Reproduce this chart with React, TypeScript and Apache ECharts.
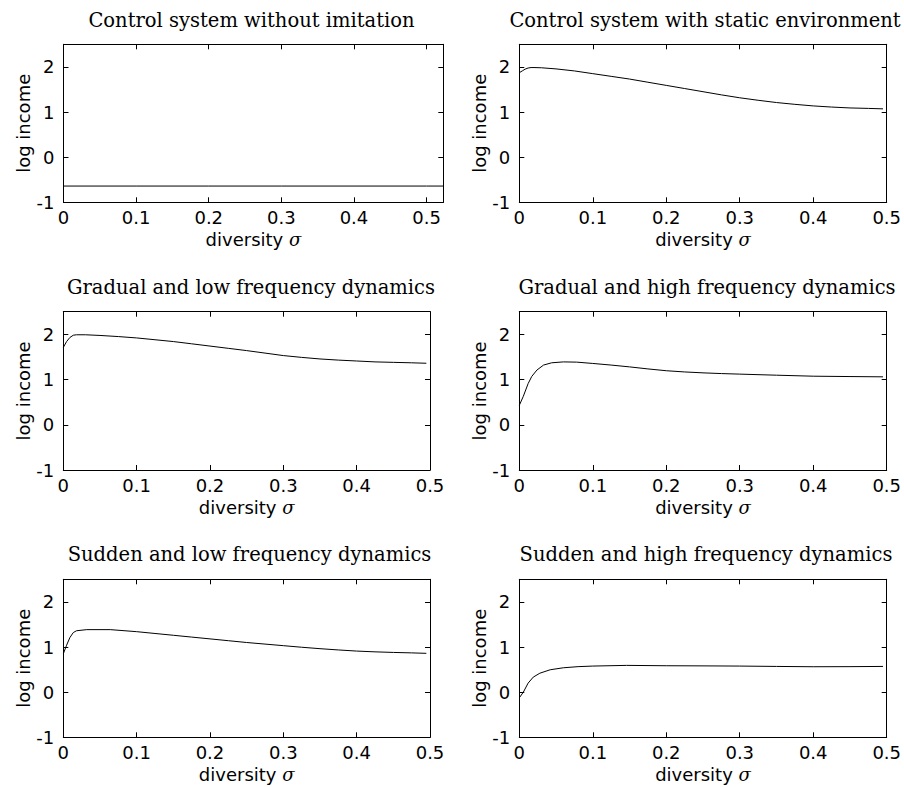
import React, { useEffect, useRef } from "react";
import * as echarts from "echarts";

// ---------- data ----------
const titles = [
  "Control system without imitation",
  "Control system with static environment",
  "Gradual and low frequency dynamics",
  "Gradual and high frequency dynamics",
  "Sudden and low frequency dynamics",
  "Sudden and high frequency dynamics",
];

const yTicks = [-1, 0, 1, 2];
const xTicks = [0, 0.1, 0.2, 0.3, 0.4, 0.5];

const sigma1 = [0, 0.1, 0.2, 0.3, 0.4, 0.5, 0.523];
const income1 = [-0.64, -0.64, -0.64, -0.64, -0.64, -0.64, -0.64];

const sigma2 = [0, 0.004, 0.008, 0.012, 0.016, 0.02, 0.03, 0.05, 0.075, 0.1, 0.125, 0.15, 0.175, 0.2, 0.225, 0.25, 0.275, 0.3, 0.325, 0.35, 0.375, 0.4, 0.425, 0.45, 0.475, 0.495];
const income2 = [1.87, 1.91, 1.95, 1.975, 1.985, 1.985, 1.98, 1.955, 1.91, 1.85, 1.79, 1.73, 1.66, 1.59, 1.52, 1.45, 1.38, 1.315, 1.26, 1.21, 1.17, 1.135, 1.11, 1.09, 1.08, 1.07];

const sigma3 = [0, 0.0045, 0.009, 0.0136, 0.018, 0.03, 0.05, 0.075, 0.1, 0.125, 0.15, 0.175, 0.2, 0.225, 0.25, 0.275, 0.3, 0.325, 0.35, 0.375, 0.4, 0.425, 0.45, 0.475, 0.495];
const income3 = [1.71, 1.84, 1.93, 1.98, 1.99, 1.99, 1.975, 1.95, 1.92, 1.88, 1.84, 1.79, 1.74, 1.69, 1.64, 1.585, 1.53, 1.49, 1.455, 1.43, 1.41, 1.39, 1.38, 1.37, 1.36];

const sigma4 = [0, 0.0055, 0.012, 0.017, 0.024, 0.033, 0.044, 0.06, 0.078, 0.1, 0.125, 0.15, 0.175, 0.2, 0.225, 0.25, 0.275, 0.3, 0.35, 0.4, 0.45, 0.495];
const income4 = [0.43, 0.63, 0.91, 1.07, 1.21, 1.32, 1.37, 1.39, 1.385, 1.356, 1.32, 1.28, 1.235, 1.195, 1.168, 1.148, 1.132, 1.12, 1.096, 1.074, 1.066, 1.06];

const sigma5 = [0, 0.0045, 0.009, 0.0136, 0.018, 0.032, 0.064, 0.1, 0.125, 0.15, 0.175, 0.2, 0.225, 0.25, 0.275, 0.3, 0.325, 0.35, 0.375, 0.4, 0.425, 0.45, 0.475, 0.495];
const income5 = [0.85, 1.04, 1.21, 1.32, 1.36, 1.385, 1.385, 1.34, 1.3, 1.26, 1.22, 1.18, 1.14, 1.1, 1.065, 1.03, 0.995, 0.963, 0.935, 0.91, 0.893, 0.88, 0.87, 0.86];

const sigma6 = [0, 0.0055, 0.012, 0.019, 0.028, 0.042, 0.06, 0.08, 0.1, 0.146, 0.2, 0.25, 0.3, 0.35, 0.4, 0.45, 0.495];
const income6 = [-0.126, 0.0, 0.2, 0.333, 0.42, 0.496, 0.54, 0.565, 0.578, 0.593, 0.585, 0.582, 0.578, 0.57, 0.563, 0.565, 0.57];

const sigmas = [sigma1, sigma2, sigma3, sigma4, sigma5, sigma6];
const incomes = [income1, income2, income3, income4, income5, income6];
const xMaxes = [0.523, 0.5, 0.5, 0.5, 0.5, 0.5];

// ---------- layout ----------
const grids = [
  { left: 63.5, top: 44.3, width: 379.8, height: 158 },
  { left: 519.3, top: 44.3, width: 367.4, height: 158 },
  { left: 63.3, top: 311.7, width: 366.7, height: 158.3 },
  { left: 519.3, top: 311.7, width: 367.4, height: 158.3 },
  { left: 63.3, top: 579.3, width: 366.7, height: 158 },
  { left: 519.3, top: 579.3, width: 367.4, height: 158 },
];
const titlePos = [
  [251.5, 20],
  [705, 20],
  [251, 287],
  [707, 287],
  [249.5, 554],
  [706, 554],
];

const SANS = "DejaVu Sans";
const SERIF = "DejaVu Serif";
const lineStyle = { color: "#000", width: 1 };

export default function App() {
  const ref = useRef<HTMLDivElement>(null);
  useEffect(() => {
    if (!ref.current) return;
    const chart = echarts.init(ref.current, undefined, { renderer: "svg" });
    const xAxis: any[] = [];
    const yAxis: any[] = [];
    const series: any[] = [];
    grids.forEach((g, i) => {
      const xmax = xMaxes[i];
      xAxis.push({
        gridIndex: i,
        type: "value",
        position: "bottom",
        min: xTicks[0],
        max: xmax,
        interval: 0.1,
        axisLine: { show: true, onZero: false, lineStyle },
        axisTick: { show: true, inside: true, length: 5, lineStyle },
        axisLabel: {
          color: "#000",
          fontFamily: SANS,
          fontSize: 18,
          margin: 6,
          showMinLabel: true,
          showMaxLabel: xmax === 0.5,
          formatter: (v: number) => String(Math.round(v * 10) / 10),
        },
        splitLine: { show: false },
        name: "diversity {s|σ}",
        nameLocation: "middle",
        nameGap: 28,
        nameTextStyle: {
          color: "#000",
          fontFamily: SANS,
          fontSize: 18,
          rich: { s: { fontFamily: SERIF, fontStyle: "italic", fontSize: 18, color: "#000" } },
        },
      });
      xAxis.push({
        gridIndex: i,
        type: "value",
        position: "top",
        min: xTicks[0],
        max: xmax,
        interval: 0.1,
        axisLine: { show: true, onZero: false, lineStyle },
        axisTick: { show: true, inside: true, length: 5, lineStyle },
        axisLabel: { show: false },
        splitLine: { show: false },
      });
      yAxis.push({
        gridIndex: i,
        type: "value",
        position: "left",
        min: yTicks[0],
        max: 2.5,
        interval: 1,
        axisLine: { show: true, onZero: false, lineStyle },
        axisTick: { show: true, inside: true, length: 5, lineStyle },
        axisLabel: {
          color: "#000",
          fontFamily: SANS,
          fontSize: 18,
          margin: 9,
          showMinLabel: true,
          showMaxLabel: false,
        },
        splitLine: { show: false },
        name: "log income",
        nameLocation: "middle",
        nameGap: 28,
        nameTextStyle: { color: "#000", fontFamily: SANS, fontSize: 18 },
      });
      yAxis.push({
        gridIndex: i,
        type: "value",
        position: "right",
        min: yTicks[0],
        max: 2.5,
        interval: 1,
        axisLine: { show: true, onZero: false, lineStyle },
        axisTick: { show: true, inside: true, length: 5, lineStyle },
        axisLabel: { show: false },
        splitLine: { show: false },
      });
      series.push({
        type: "line",
        xAxisIndex: i * 2,
        yAxisIndex: i * 2,
        showSymbol: false,
        symbol: "none",
        smooth: false,
        lineStyle: { color: "#000", width: 1 },
        data: sigmas[i].map((x, k) => [x, incomes[i][k]]),
      });
    });

    const graphic = titles.map((t, i) => ({
      type: "text",
      x: titlePos[i][0],
      y: titlePos[i][1],
      style: {
        text: t,
        fill: "#000",
        fontFamily: SERIF,
        fontSize: 19.5,
        align: "center",
        verticalAlign: "middle",
        textAlign: "center",
        textVerticalAlign: "middle",
      },
    }));

    chart.setOption({
      animation: false,
      backgroundColor: "#fff",
      grid: grids.map((g) => ({ ...g, containLabel: false, outerBoundsMode: "none" })),
      xAxis,
      yAxis,
      series,
      graphic,
    });
    return () => chart.dispose();
  }, []);
  return (
    <div
      ref={ref}
      style={{ position: "absolute", left: 0, top: 0, width: 904, height: 787 }}
    />
  );
}
